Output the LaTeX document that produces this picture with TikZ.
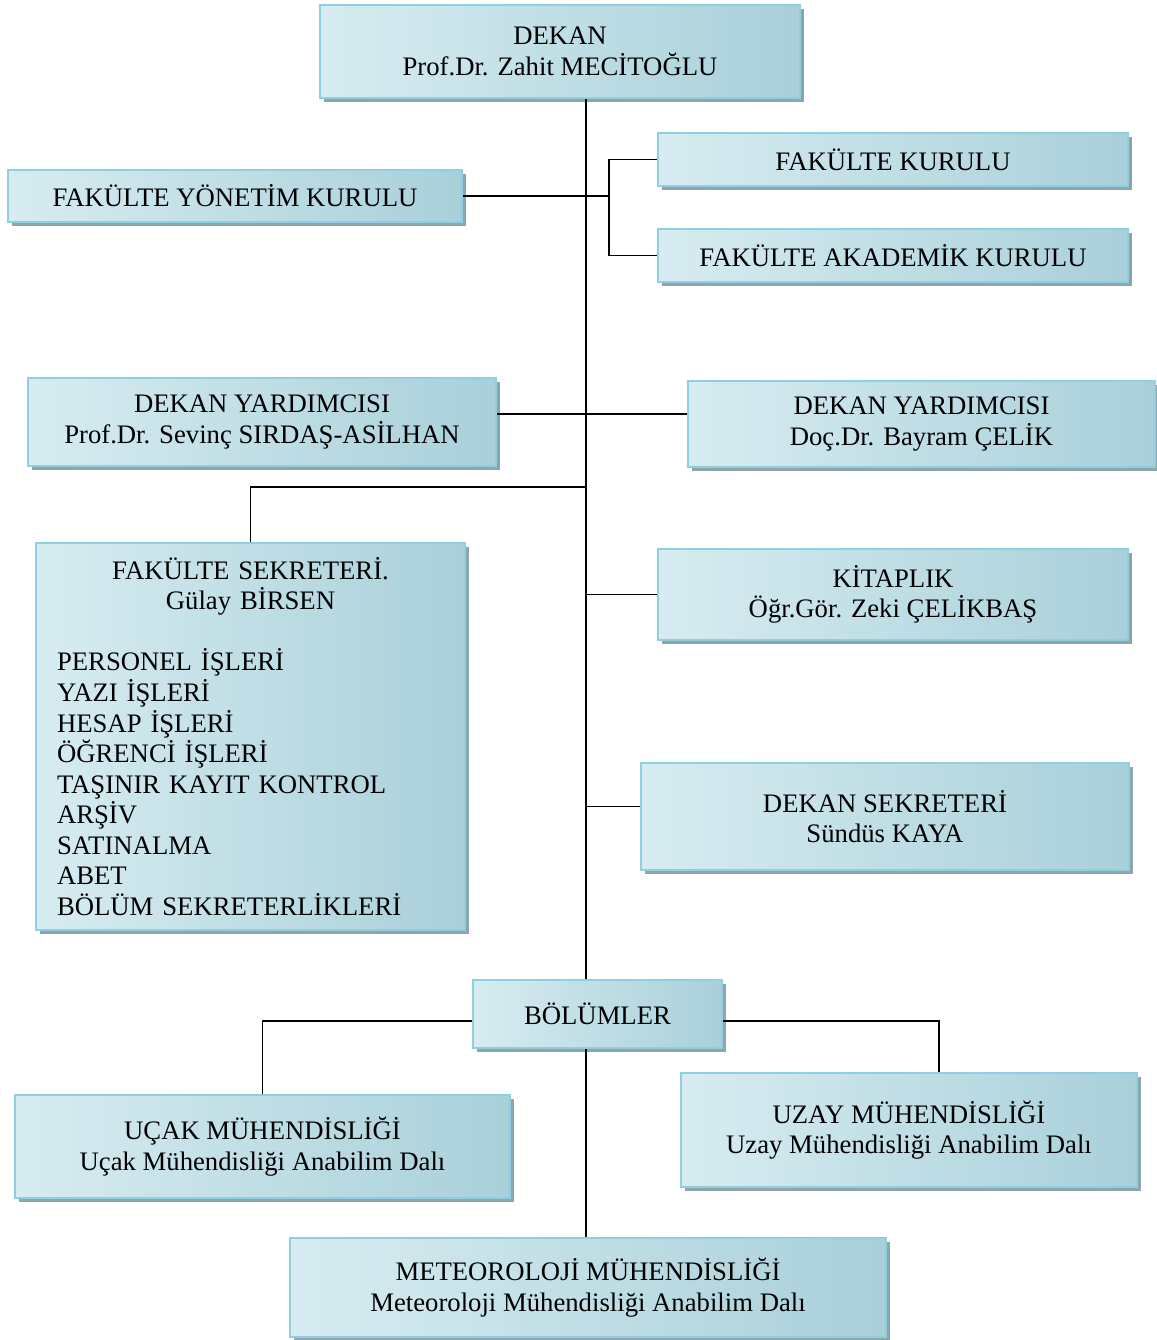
\documentclass[tikz,border=0pt]{standalone}
\usepackage{fontspec}
\setmainfont{Liberation Serif}
\usepackage{xcolor}
\usepackage{tikz}
\usetikzlibrary{positioning,calc,shadows}
\definecolor{orglight}{HTML}{D7ECF1}
\definecolor{orgdark}{HTML}{A9D0DA}
\definecolor{orgedge}{HTML}{8ED0DF}
\definecolor{orgshadow}{HTML}{8FA5AC}

\begin{document}
\begin{tikzpicture}[
  x=0.02cm,y=-0.02cm,
  every node/.style={font=\fontsize{15.2}{17.4}\selectfont,align=center},
  unit/.style={draw=orgedge,line width=1.3pt,left color=orglight,right color=orgdark,
    inner sep=2pt,
    drop shadow={shadow xshift=0.08cm,shadow yshift=-0.08cm,fill=orgshadow,opacity=1}},
  link/.style={line width=0.8pt,color=black}
]
\useasboundingbox (0,0) rectangle (1157,1340);
% top
\node[unit,minimum width=9.6cm,minimum height=1.86cm] (dekan) at (560,51.5)
  {DEKAN\\Prof.Dr. Zahit MEC\.{I}TO\u{G}LU};
% boards
\node[unit,minimum width=9.08cm,minimum height=1.04cm] (yonetim) at (235,196)
  {FAKÜLTE YÖNET\.{I}M KURULU};
\node[unit,minimum width=9.4cm,minimum height=1.06cm] (kurul) at (893,159.5)
  {FAKÜLTE KURULU};
\node[unit,minimum width=9.4cm,minimum height=1.06cm] (akademik) at (893,255.5)
  {FAKÜLTE AKADEM\.{I}K KURULU};
% deputies
\node[unit,minimum width=9.36cm,minimum height=1.76cm] (yrdsol) at (262,422)
  {DEKAN YARDIMCISI\\Prof.Dr. Sevinç SIRDA\c{S}-AS\.{I}LHAN};
\node[unit,minimum width=9.34cm,minimum height=1.72cm] (yrdsag) at (921.5,424)
  {DEKAN YARDIMCISI\\Doç.Dr. Bayram ÇEL\.{I}K};
% secretary
\node[unit,minimum height=7.74cm,text width=7.74cm,inner xsep=0.42cm,align=left] (sekreter) at (250.5,736.5)
  {{\centering FAKÜLTE SEKRETER\.{I}.\\Gülay B\.{I}RSEN\par}\vspace{17.4pt}
   PERSONEL \.{I}\c{S}LER\.{I}\\
   YAZI \.{I}\c{S}LER\.{I}\\
   HESAP \.{I}\c{S}LER\.{I}\\
   Ö\u{G}RENC\.{I} \.{I}\c{S}LER\.{I}\\
   TA\c{S}INIR KAYIT KONTROL\\
   AR\c{S}\.{I}V\\
   SATINALMA\\
   ABET\\
   BÖLÜM SEKRETERL\.{I}KLER\.{I}};
\node[unit,minimum width=9.4cm,minimum height=1.82cm] (kitaplik) at (893,594.5)
  {K\.{I}TAPLIK\\Ö\u{g}r.Gör. Zeki ÇEL\.{I}KBA\c{S}};
\node[unit,minimum width=9.76cm,minimum height=2.14cm] (dekansek) at (885,816.5)
  {DEKAN SEKRETER\.{I}\\Sündüs KAYA};
% departments
\node[unit,minimum width=4.98cm,minimum height=1.36cm] (bolumler) at (597.5,1014)
  {BÖLÜMLER};
\node[unit,minimum width=9.9cm,minimum height=2.06cm] (ucak) at (262.5,1146.5)
  {UÇAK MÜHEND\.{I}SL\.{I}\u{G}\.{I}\\Uçak Mühendisli\u{g}i Anabilim Dalı};
\node[unit,minimum width=9.12cm,minimum height=2.28cm] (uzay) at (909,1130)
  {UZAY MÜHEND\.{I}SL\.{I}\u{G}\.{I}\\Uzay Mühendisli\u{g}i Anabilim Dalı};
\node[unit,minimum width=11.92cm,minimum height=1.98cm] (meteo) at (588,1287.5)
  {METEOROLOJ\.{I} MÜHEND\.{I}SL\.{I}\u{G}\.{I}\\Meteoroloji Mühendisli\u{g}i Anabilim Dalı};
% connectors
\coordinate (trunk) at (586,0);
\coordinate (fork) at (609,0);
\coordinate (sekjoin) at (586,487);
\draw[link] (dekan.south -| trunk) -- (bolumler.north -| trunk);
\draw[link] (bolumler.south -| trunk) -- (meteo.north -| trunk);
\draw[link] (yonetim.east) -- (yonetim.east -| fork);
\draw[link] (kurul.west) -- (kurul.west -| fork) -- (akademik.west -| fork) -- (akademik.west);
\draw[link] ([yshift=0.16cm]yrdsol.east) -- ([yshift=0.16cm]yrdsol.east -| yrdsag.west);
\draw[link] (sekreter.north) |- (sekjoin);
\draw[link] (kitaplik.west) -- (kitaplik.west -| trunk);
\draw[link] ([yshift=0.2cm]dekansek.west) -- ([yshift=0.2cm]dekansek.west -| trunk);
\draw[link] ([yshift=-0.14cm]bolumler.west) -| (ucak.north);
\draw[link] ([yshift=-0.14cm]bolumler.east) -| ([xshift=0.6cm]uzay.north);
\end{tikzpicture}
\end{document}
